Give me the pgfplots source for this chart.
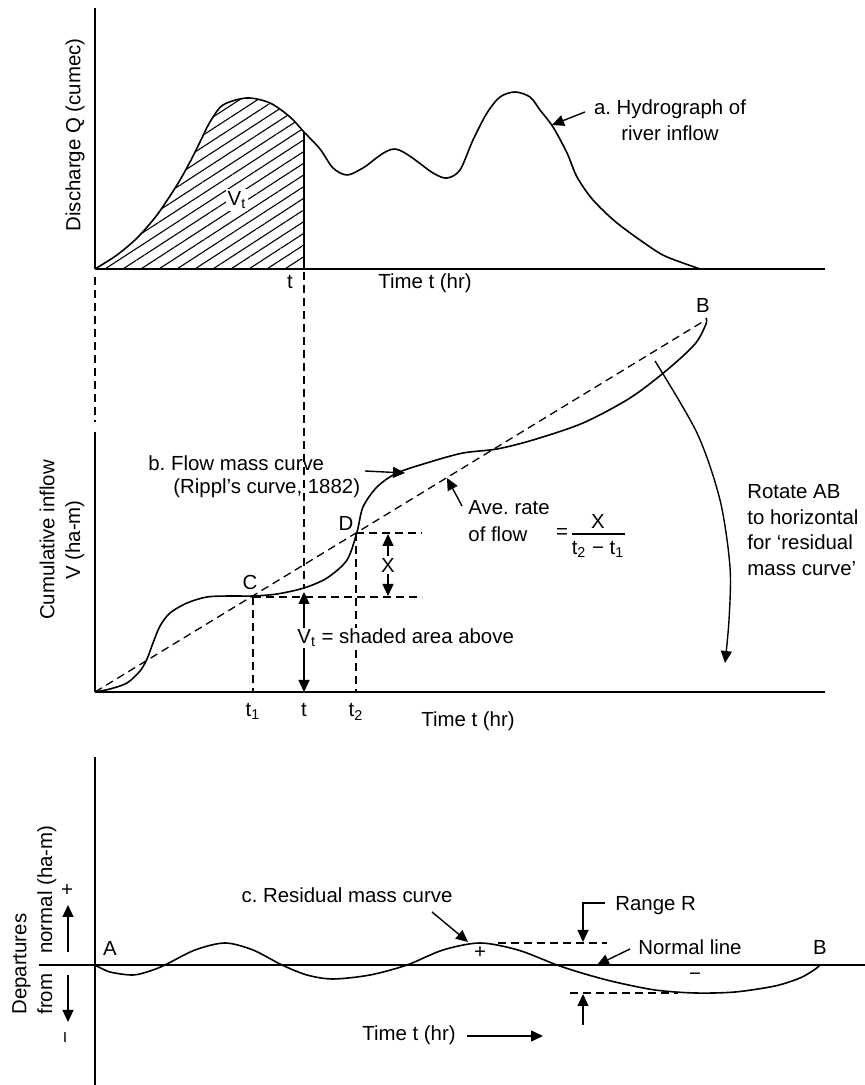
\documentclass[border=0pt]{standalone}
\usepackage{fontspec}
\setmainfont{Liberation Sans}
\usepackage{pgfplots}
\pgfplotsset{compat=1.18}
\usetikzlibrary{arrows.meta,patterns.meta}
\frenchspacing
\tikzset{
  arr/.style={-{Triangle[length=6pt,width=5.5pt]}, line width=0.7pt},
  darr/.style={{Triangle[length=6pt,width=5.5pt]}-{Triangle[length=6pt,width=5.5pt]}, line width=0.7pt},
  dsh/.style={line width=0.65pt, dash pattern=on 4pt off 2.5pt},
}
\pgfplotsset{
  diag/.style={x=0.5pt, y=0.5pt,
    xtick=\empty, ytick=\empty, clip=false, anchor=south west},
  noarrows/.style={axis line style={-, line width=0.9pt},
    every inner x axis line/.append style={-},
    every inner y axis line/.append style={-},
    every outer x axis line/.append style={-},
    every outer y axis line/.append style={-}},
}
\begin{document}
\frenchspacing
\begin{tikzpicture}[font=\fontsize{10.2}{12.8}\selectfont\frenchspacing]
\useasboundingbox (0,0) rectangle (432.5pt,542.5pt);
% ---------- a. hydrograph ----------
\begin{axis}[diag, at={(47.5pt,408pt)}, axis lines=left, noarrows,
  xmin=0, xmax=730, ymin=0, ymax=261]
\addplot[draw=none, pattern={Lines[angle=33,distance=4.9pt,line width=0.55pt]}, smooth]
  coordinates {(0,0)(22,14)(42,31)(62,54)(82,84)(95,107)(105,127)(115,147)(128,164)(152,171)(175,166)(195,152)(209,137)} \closedcycle;
\addplot[black, smooth, line width=0.8pt] coordinates {
  (0,0)(22,14)(42,31)(62,54)(82,84)(95,107)(105,127)(115,147)(128,164)(152,171)(175,166)(195,152)(209,137)
  (225,120)(238,101)(252,94)(268,101)(300,120)(338,96)(352,91)(365,99)(378,129)(392,156)(405,172)
  (420,177)(435,172)(445,159)(458,142)(472,116)(482,92)(498,69)(522,46)(555,22)(572,12)(605,0)};
\addplot[black, line width=0.8pt] coordinates {(209,0)(209,137)};
\node[fill=white, inner sep=1pt] at (axis cs:142,69) {V\textsubscript{t}};
\node[rotate=90] at (axis cs:-20,134) {Discharge Q (cumec)};
\node[anchor=base] at (axis cs:195,-20) {t};
\node[anchor=base] at (axis cs:330,-20) {Time t (hr)};
\node[align=center] at (axis cs:575,149) {a. Hydrograph of\\river inflow};
\draw[arr] (axis cs:490,157) -- (axis cs:457,144);
\end{axis}
% ---------- b. mass curve ----------
\begin{axis}[diag, at={(47.5pt,196.5pt)}, axis lines=left, noarrows,
  xmin=0, xmax=730, ymin=0, ymax=260]
\addplot[black, dsh] coordinates {(0,0)(609,371)};
\addplot[black, smooth, line width=0.8pt] coordinates {
  (0,0)(15,3)(32,9)(45,21)(52,33)(58,49)(65,66)(75,79)(92,89)(112,95)(135,96)(158,96)(182,98)(209,104)
  (232,114)(252,132)(262,160)(268,185)(282,205)(302,219)(335,230)(368,239)(402,243)
  (438,252)(488,269)(535,294)(572,322)(600,348)(611,368)(611,374)};
\draw[dsh] (axis cs:0,415) -- (axis cs:0,270);
\draw[dsh] (axis cs:209,420) -- (axis cs:209,104);
\draw[darr] (axis cs:209,0) -- (axis cs:209,100);
\draw[dsh] (axis cs:158,95) -- (axis cs:327,95);
\draw[dsh] (axis cs:158,95) -- (axis cs:158,0);
\draw[dsh] (axis cs:261,159) -- (axis cs:327,159);
\draw[dsh] (axis cs:261,159) -- (axis cs:261,0);
\draw[darr] (axis cs:293,158) -- (axis cs:293,96);
\node[fill=white, inner sep=1pt] at (axis cs:293,127) {X};
\node at (axis cs:155,110) {C};
\node at (axis cs:251,169) {D};
\node at (axis cs:608,387) {B};
\node[anchor=base] at (axis cs:158,-25) {t\textsubscript{1}};
\node[anchor=base] at (axis cs:209,-25) {t};
\node[anchor=base] at (axis cs:261,-25) {t\textsubscript{2}};
\node[anchor=base] at (axis cs:373,-35) {Time t (hr)};
\node[anchor=west, fill=white, inner sep=0.5pt] at (axis cs:201,54) {V\textsubscript{t} = shaded area above};
\node[rotate=90, align=center] at (axis cs:-33,152) {Cumulative inflow\\V (ha-m)};
\node[anchor=west, inner sep=0pt] at (axis cs:53,229) {b. Flow mass curve};
\node[anchor=west, inner sep=0pt] at (axis cs:78,204) {(Rippl’s curve, 1882)};
\draw[arr] (axis cs:270,221) -- (axis cs:310,219);
\node[anchor=west, inner sep=0pt] at (axis cs:373,184) {Ave. rate};
\node[anchor=west, inner sep=0pt] at (axis cs:373,158) {of flow};
\draw[arr] (axis cs:367,186) -- (axis cs:352,214);
\node at (axis cs:467,158) {=};
\node at (axis cs:503,171) {X};
\draw[line width=0.6pt] (axis cs:477,158) -- (axis cs:530,158);
\node at (axis cs:503,143) {t\textsubscript{2} − t\textsubscript{1}};
\node[anchor=west, align=left, inner sep=0pt] at (axis cs:652,162) {Rotate AB\\to horizontal\\for ‘residual\\mass curve’};
\addplot[black, smooth, arr] coordinates {(560,331)(602,259)(625,192)(635,125)(634,72)(630,29)};
\end{axis}
% ---------- c. residual mass curve ----------
\begin{axis}[diag, at={(19.5pt,0pt)}, axis lines=middle, noarrows,
  xmin=-56, xmax=770, ymin=-120, ymax=208]
\addplot[black, smooth, line width=0.8pt] coordinates {
  (0,0)(15,-7)(38,-10)(55,-6)(70,0)(100,15)(130,22)(158,15)(187,0)(212,-10)(238,-14)
  (275,-10)(312,0)(348,15)(385,22)(423,15)(462,0)(490,-9)(520,-17)(560,-25)(600,-28)
  (640,-27)(680,-21)(705,-13)(719,-5)(725,0)};
\node at (axis cs:15,17) {A};
\node at (axis cs:725,18) {B};
\node at (axis cs:385,12) {+};
\node at (axis cs:600,-12) {−};
\node at (axis cs:252,70) {c. Residual mass curve};
\draw[arr] (axis cs:337,53) -- (axis cs:373,23);
\draw[dsh] (axis cs:403,22) -- (axis cs:512,22);
\draw[dsh] (axis cs:475,-28) -- (axis cs:583,-28);
\draw[arr] (axis cs:510,62) -- (axis cs:488,62) -- (axis cs:488,23);
\node[anchor=west, inner sep=0pt] at (axis cs:520,59) {Range R};
\draw[arr] (axis cs:488,-60) -- (axis cs:488,-29);
\node[anchor=west, inner sep=0pt] at (axis cs:543,18) {Normal line};
\draw[arr] (axis cs:535,16) -- (axis cs:502,0);
\node at (axis cs:314,-70) {Time t (hr)};
\draw[arr] (axis cs:372,-71) -- (axis cs:448,-71);
\node[rotate=90, anchor=north west, align=left, inner sep=0pt] at (axis cs:-83,-50) {Departures\\from\hspace{10pt}normal (ha-m)};
\node[rotate=90] at (axis cs:-27,75) {+};
\node[rotate=90] at (axis cs:-27,-73) {−};
\draw[arr] (axis cs:-27,13) -- (axis cs:-27,60);
\draw[arr] (axis cs:-27,-10) -- (axis cs:-27,-57);
\end{axis}
\end{tikzpicture}
\end{document}
